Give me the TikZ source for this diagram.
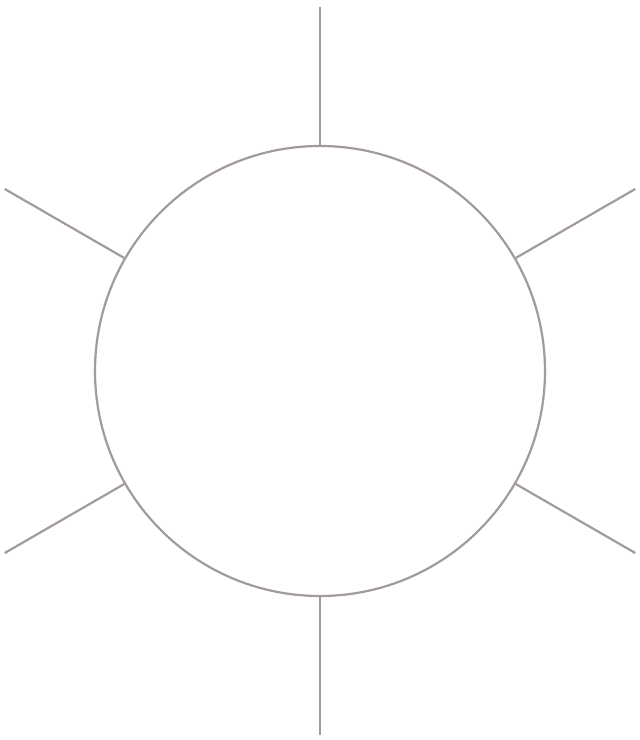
\documentclass[tikz,border=0pt]{standalone}
\usetikzlibrary{calc}
\definecolor{ray}{RGB}{162,154,158}
\begin{document}
\begin{tikzpicture}[x=1pt,y=1pt,raystyle/.style={draw=ray,line width=2.2pt}]
\useasboundingbox (0,0) rectangle (640,740);
\coordinate (c) at (320,369);
\node[circle,raystyle,minimum size=450pt,inner sep=0pt] (sun) at (c) {};
\foreach \a [count=\i] in {90,30,-30,-90,-150,150} {
  \coordinate (e\i) at ($(c)+(\a:364)$);
  \draw[raystyle] (sun.\a) -- (e\i);
}
\end{tikzpicture}
\end{document}
